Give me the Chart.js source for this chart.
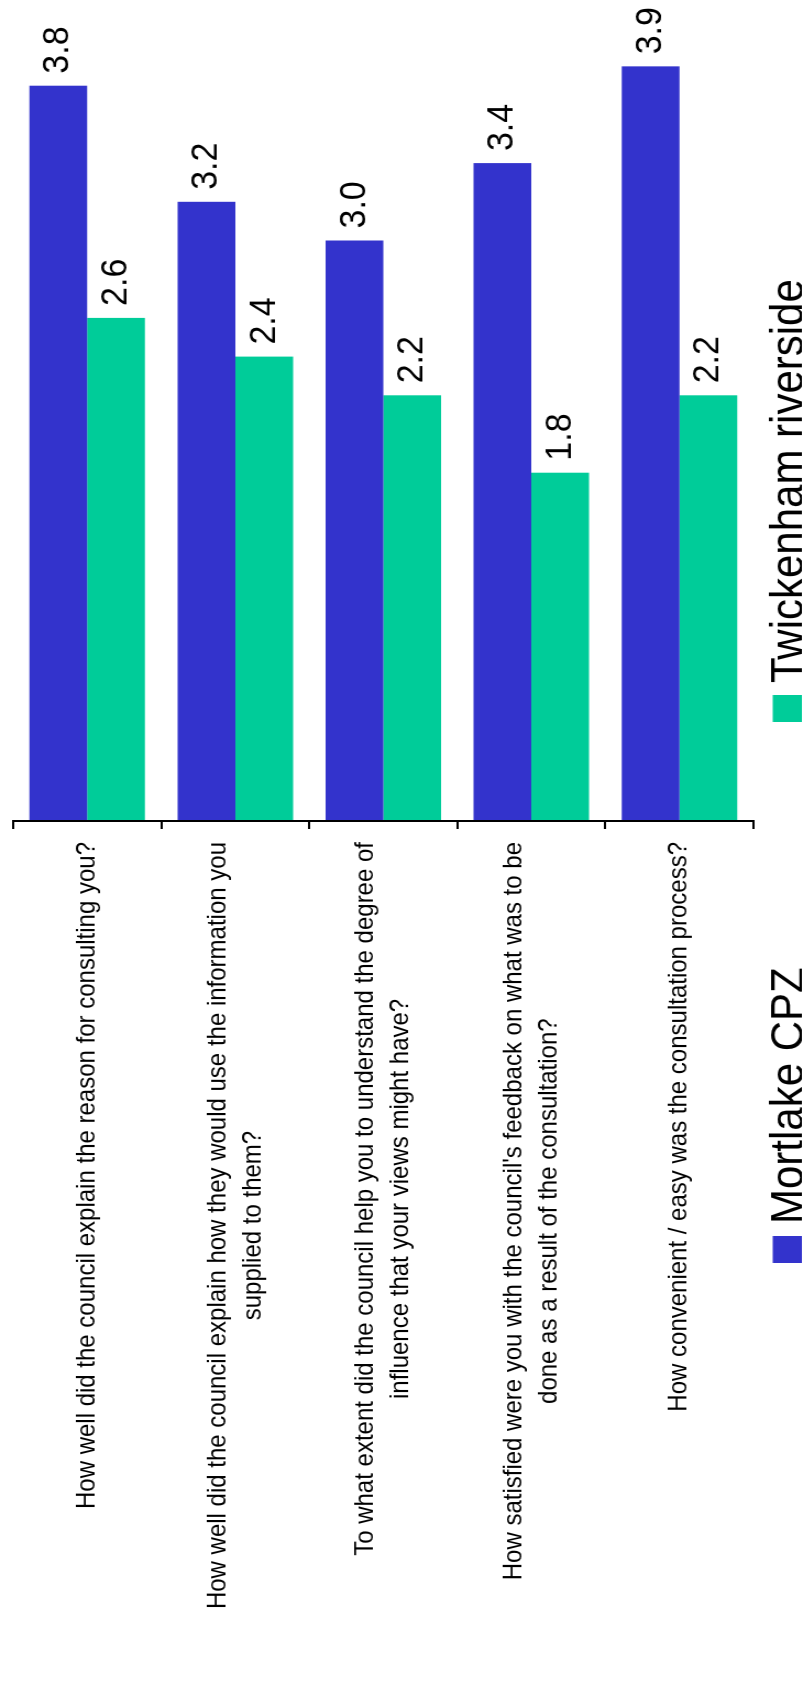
<!DOCTYPE html>
<html>
<head>
<meta charset="utf-8">
<title>Consultation satisfaction</title>
<script src="https://cdn.jsdelivr.net/npm/chart.js@4.4.1/dist/chart.umd.min.js"></script>
<style>
    html, body { margin: 0; padding: 0; background: #fff; }
    body { width: 802px; height: 1697px; overflow: hidden; position: relative; }
    /* chart is laid out sideways and turned to stand upright on the page */
    #chartBox {
        position: absolute;
        left: 0;
        top: 0;
        width: 1697px;
        height: 729px;
        transform-origin: 0 0;
        transform: translate(0px, 1697px) rotate(-90deg) scaleY(1.1);
    }
</style>
</head>
<body>
<div id="chartBox"><canvas id="chart_survey" width="1697" height="729"></canvas></div>
<script>
const categories = [
    ['How well did the council explain the reason for consulting you?'],
    ['How well did the council explain how they would use the information you', 'supplied to them?'],
    ['To what extent did the council help you to understand the degree of', 'influence that your views might have?'],
    ["How satisfied were you with the council's feedback on what was to be", 'done as a result of the consultation?'],
    ['How convenient / easy was the consultation process?']
];
const seriesNames = ['Mortlake CPZ', 'Twickenham riverside'];
const mortlakeScores = [3.8, 3.2, 3.0, 3.4, 3.9];
const twickenhamScores = [2.6, 2.4, 2.2, 1.8, 2.2];
const seriesColors = ['#3333cc', '#00cc99'];

const FONT = '"Liberation Sans", Arial, sans-serif';
const LINE_H = 32;

// value labels at bar ends, wrapped question text and the legend
const surveyText = {
    id: 'surveyText',
    afterDatasetsDraw(chart) {
        const ctx = chart.ctx;
        ctx.save();
        ctx.font = '34px ' + FONT;
        ctx.fillStyle = '#000';
        ctx.textAlign = 'left';
        ctx.textBaseline = 'middle';
        chart.data.datasets.forEach((ds, di) => {
            chart.getDatasetMeta(di).data.forEach((bar, i) => {
                ctx.fillText(ds.data[i].toFixed(1), bar.x + 12, bar.y);
            });
        });
        ctx.restore();
    },
    afterDraw(chart) {
        const ctx = chart.ctx;
        const yScale = chart.scales.y;
        ctx.save();
        ctx.fillStyle = '#000';

        // question text: block sits against the axis, lines centred on each other
        ctx.font = '24px ' + FONT;
        ctx.textAlign = 'center';
        ctx.textBaseline = 'middle';
        categories.forEach((lines, i) => {
            const cy = yScale.getPixelForValue(i);
            const maxW = Math.max(...lines.map(l => ctx.measureText(l).width));
            const cx = yScale.right - 21 - maxW / 2;
            const top = cy - (lines.length - 1) * LINE_H / 2;
            lines.forEach((l, j) => ctx.fillText(l, cx, top + j * LINE_H));
        });

        // legend along the bottom edge
        const legendX = [434, 975];
        ctx.font = '42px ' + FONT;
        ctx.textAlign = 'left';
        ctx.textBaseline = 'alphabetic';
        seriesNames.forEach((name, i) => {
            ctx.fillStyle = seriesColors[i];
            ctx.fillRect(legendX[i], 702.5, 27, 30);
            ctx.fillStyle = '#000';
            ctx.fillText(name, legendX[i] + 39, 729.5);
        });
        ctx.restore();
    }
};

const datasets = [mortlakeScores, twickenhamScores].map((values, i) => ({
    label: seriesNames[i],
    data: values,
    backgroundColor: seriesColors[i],
    borderWidth: 0,
    categoryPercentage: 0.78,
    barPercentage: 1.0
}));

new Chart(document.getElementById('chart_survey'), {
    type: 'bar',
    data: {
        labels: categories,
        datasets: datasets
    },
    options: {
        indexAxis: 'y',
        responsive: false,
        devicePixelRatio: 1,
        animation: false,
        layout: {
            padding: { top: 12, right: 47, bottom: 44, left: 0 }
        },
        plugins: {
            legend: { display: false },
            title: { display: false },
            tooltip: { enabled: false }
        },
        scales: {
            x: {
                display: false,
                min: 0,
                max: 4
            },
            y: {
                afterFit: (scale) => { scale.width = 876; },
                grid: {
                    offset: true,
                    drawOnChartArea: false,
                    drawTicks: true,
                    tickLength: 8,
                    color: '#000',
                    lineWidth: 2
                },
                border: { display: true, color: '#000', width: 2, z: 1 },
                ticks: { display: false }
            }
        }
    },
    plugins: [surveyText]
});
</script>
</body>
</html>
